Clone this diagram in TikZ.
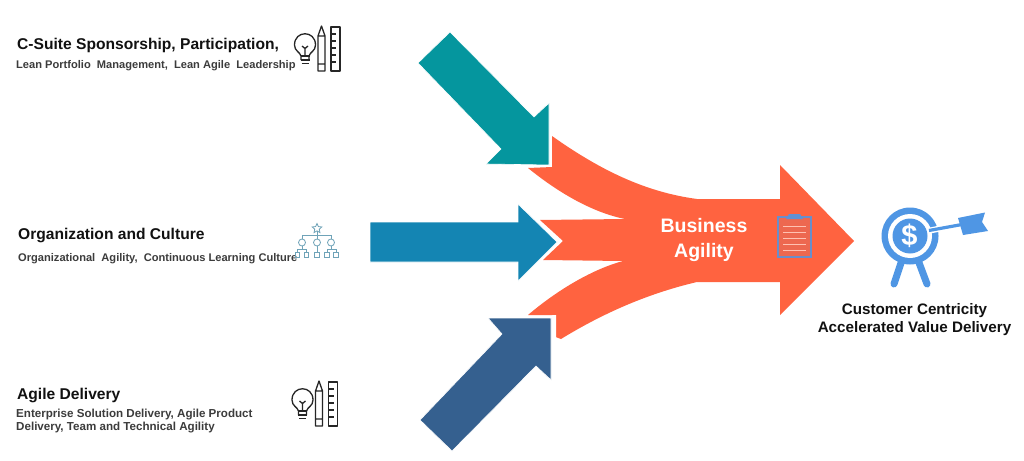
\documentclass[tikz,border=0pt]{standalone}
\usepackage{fontspec}
\setmainfont{Liberation Sans}
\usetikzlibrary{shapes.geometric}
\definecolor{tealc}{HTML}{05969E}
\definecolor{bluec}{HTML}{1485B3}
\definecolor{navyc}{HTML}{35608F}
\definecolor{orangec}{HTML}{FF6340}
\definecolor{iconb}{HTML}{4F96E4}
\definecolor{orgc}{HTML}{6FA3B8}
\definecolor{subc}{HTML}{3C3C3C}
\definecolor{headc}{HTML}{111111}
\tikzset{
  x=1pt,y=-1pt,
  headtext/.style={anchor=west,inner sep=0pt,text=headc,font=\fontsize{15.6}{18}\selectfont\bfseries},
  subtext/.style={anchor=west,inner sep=0pt,text=subc,align=left,font=\fontsize{11.1}{13.4}\selectfont\bfseries},
  subwide/.style={subtext,font=\fontsize{11.6}{13.4}\selectfont\bfseries},
  goaltext/.style={inner sep=0pt,text=headc,align=center,font=\fontsize{15.2}{18}\selectfont\bfseries},
  centertext/.style={inner sep=0pt,text=white,align=center,font=\fontsize{19.5}{24.5}\selectfont\bfseries},
  arrowshape/.style={draw=white,line width=0.6pt,line join=miter},
  ideaicon/.pic={
    \begin{scope}[draw=black!85,line width=1.3pt,fill=none,line join=round]
      \draw (-4,60) -- (-4,56) .. controls (-5,52) and (-10.5,51) .. (-10.5,45) .. controls (-10.5,30) and (10.5,30) .. (10.5,45) .. controls (10.5,51) and (5,52) .. (4,56) -- (4,60);
      \draw (-4.5,56) -- (4.5,56) (-4.5,60) -- (4.5,60) (-3.5,63.5) -- (3.5,63.5);
      \draw (-3,46) -- (0,48.5) -- (3,46) (0,48.5) -- (0,56);
      \draw (13,71) -- (13,36) -- (16.5,26) -- (20,36) -- (20,71) -- cycle (13,36) -- (20,36) (13,64) -- (20,64);
      \draw (26,27) rectangle (35,71);
      \foreach \yy in {34,41,48,55,62} \draw (26,\yy) -- (31,\yy);
    \end{scope}
  }
}
\begin{document}
\begin{tikzpicture}
\useasboundingbox (0,0) rectangle (1024,460);
\fill[white] (0,0) rectangle (1024,460);

% orange merged arrow
\fill[orangec] (552,136) .. controls (600,170) and (645,192) .. (697,199)
  -- (780,199) -- (780,165) -- (854,241) -- (780,315) -- (780,282) -- (697,282)
  .. controls (650,293) and (605,312) .. (561,339) -- (553,336) -- (553,315) -- (528,315)
  .. controls (555,292) and (590,270) .. (623,261) -- (543,260) -- (563,241) -- (540,220) -- (625,219)
  .. controls (590,212) and (555,190) .. (528,168) -- (552,167) -- cycle;
\fill[white] (553,315) -- (549,318) -- (553,340) -- (556,340) -- (556,315) -- cycle;

% incoming arrows
\filldraw[arrowshape,fill=tealc] (450,32) -- (534,117) -- (549,103) -- (549,165) -- (486,164) -- (501,149) -- (418,63) -- cycle;
\filldraw[arrowshape,fill=bluec] (370,222) -- (518,222) -- (518,204) -- (557,242) -- (518,281) -- (518,262) -- (370,262) -- cycle;
\filldraw[arrowshape,fill=navyc] (488,318) -- (551,318) -- (551,380) -- (536,366) -- (452,451) -- (420,420) -- (502,334) -- cycle;

% centre label
\node[centertext] (agility) at (704,240) {Business\\Agility};

% clipboard
\draw[iconb!85!orangec,line width=2.4pt,fill=orangec!90!iconb] (778,217) rectangle (811,257);
\fill[iconb!90!orangec] (786,219) -- (789,214) -- (800,214) -- (803,219) -- cycle;
\foreach \yy in {226,232,238,244,250}
  \draw[white!60!orangec,line width=0.8pt] (783,\yy) -- (806,\yy);

% target with dart
\draw[iconb,line width=7pt,line cap=round] (902,260) -- (894,284);
\draw[iconb,line width=7pt,line cap=round] (918,260) -- (927,284);
\fill[iconb] (910,236) circle (28.5);
\fill[white] (910,236) circle (22);
\fill[iconb] (910,236) circle (17.5);
\draw[white,line width=6pt] (928,231) -- (961,224);
\draw[iconb,line width=3.2pt] (929,230.5) -- (962,224.5);
\fill[iconb] (958,218) -- (985,212.5) -- (982,222) -- (988,231) -- (963,235) -- cycle;
\node[inner sep=0pt,text=white,font=\fontsize{29}{29}\selectfont\bfseries] (dollar) at (909.5,236) {\$};

% left texts
\node[headtext] (h1) at (17,45.5) {C-Suite Sponsorship, Participation,};
\node[subtext] (s1) at (16,65.5) {Lean Portfolio\; Management,\; Lean Agile\; Leadership};
\node[headtext] (h2) at (18,235.5) {Organization and Culture};
\node[subtext] (s2) at (18,258.5) {Organizational\; Agility,\; Continuous Learning Culture};
\node[headtext] (h3) at (17,395.5) {Agile Delivery};
\node[subwide] (s3) at (16,421) {Enterprise Solution Delivery, Agile Product\\Delivery, Team and Technical Agility};

% right text
\node[goaltext] (goal) at (914.5,320) {Customer Centricity\\Accelerated Value Delivery};

% icons
\pic at (305,0) {ideaicon};
\pic at (302.5,355) {ideaicon};

% org chart icon
\begin{scope}[draw=orgc,line width=0.8pt]
  \node[star,star points=5,star point ratio=2.1,draw,inner sep=0pt,minimum size=10pt] (st) at (317,228.5) {};
  \coordinate (bar) at (317,235);
  \draw (st.south) -- (bar);
  \draw (302,239) -- (302,235) -- (331,235) -- (331,239);
  \draw (317,235) -- (317,239);
  \foreach \xx in {302,317,331} \draw (\xx,242.5) circle (3.5);
  \draw (302,246) -- (302,249) (297.5,252) -- (297.5,249) -- (306.5,249) -- (306.5,252);
  \draw (317,246) -- (317,252);
  \draw (331,246) -- (331,249) (327,252) -- (327,249) -- (336,249) -- (336,252);
  \foreach \xx in {297.5,306.5,317,327,336} \draw (\xx-2.2,252.5) rectangle (\xx+2.2,257);
\end{scope}
\end{tikzpicture}
\end{document}
